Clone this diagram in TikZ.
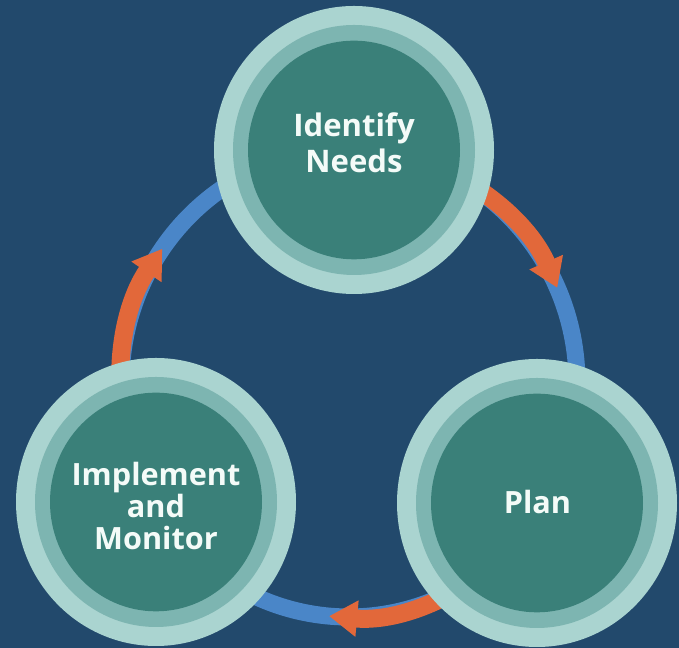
\documentclass[tikz,border=0pt]{standalone}
\usepackage{fontspec}
\setmainfont{Open Sans}
\usetikzlibrary{arrows.meta,shapes.geometric}
\definecolor{bg}{HTML}{22496C}
\definecolor{ringlight}{HTML}{AAD4D0}
\definecolor{ringmid}{HTML}{7DB5B1}
\definecolor{diskcol}{HTML}{3A8079}
\definecolor{flowblue}{HTML}{4A86C8}
\definecolor{floworange}{HTML}{E2683A}
\definecolor{txtcol}{HTML}{F4FBF8}
\tikzset{
  outerdisk/.style={ellipse, fill=ringlight, inner sep=0pt, minimum width=210pt, minimum height=216pt},
  middisk/.style={ellipse, fill=ringmid, inner sep=0pt, minimum width=181.5pt, minimum height=187.5pt},
  innerdisk/.style={ellipse, fill=diskcol, inner sep=0pt, minimum width=159pt, minimum height=164pt},
  lbl/.style={text=txtcol, align=center, inner sep=0pt, font=\bfseries\fontsize{23.3}{27}\selectfont},
  ringline/.style={draw=flowblue, line width=12.75pt},
  flowarrow/.style={draw=floworange, line width=13.5pt, -{Triangle[width=26pt,length=21pt]}}
}
\begin{document}
\begin{tikzpicture}[x=0.75pt,y=0.75pt]
\useasboundingbox (0,0) rectangle (679,648);
\fill[bg] (0,0) rectangle (679,648);
\coordinate (ringc) at (349,265);
% cycle ring
\draw[ringline] (ringc) ellipse [x radius=228, y radius=234];
% arrows
\draw[flowarrow] (ringc) ++(75:228 and 234) arc[start angle=75, end angle=24, x radius=228, y radius=234];
\draw[flowarrow] (ringc) ++(-40:228 and 234) arc[start angle=-40, end angle=-95, x radius=228, y radius=234];
\draw[flowarrow] (ringc) ++(200:228 and 234) arc[start angle=200, end angle=145, x radius=228, y radius=234];
% circles
\node[outerdisk] (idouter) at (354,498) {};
\node[middisk] (idmid) at (354,498) {};
\node[innerdisk] (idinner) at (354,498) {};
\node[outerdisk] (imouter) at (156,146) {};
\node[middisk] (immid) at (156,146) {};
\node[innerdisk] (iminner) at (156,146) {};
\node[outerdisk] (plouter) at (537,145) {};
\node[middisk] (plmid) at (537,145) {};
\node[innerdisk] (plinner) at (537,145) {};
% labels
\node[lbl] (idtext) at (354,505.5) {Identify\\Needs};
\node[lbl, font=\bfseries\fontsize{23}{24}\selectfont] (imtext) at (156,142) {Implement\\and\\Monitor};
\node[lbl, font=\bfseries\fontsize{23}{24}\selectfont] (pltext) at (537.5,146) {Plan};
\end{tikzpicture}
\end{document}
